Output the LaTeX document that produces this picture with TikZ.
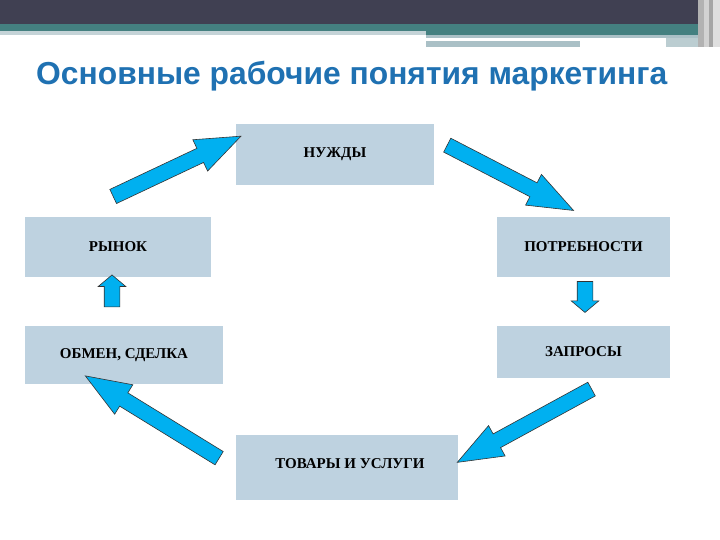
\documentclass[tikz,border=0pt]{standalone}
\usepackage{fontspec}
\setmainfont{Liberation Serif}
\newfontfamily\titlefont{Liberation Sans}
\usetikzlibrary{shapes.arrows,calc}
\definecolor{headdark}{RGB}{64,64,82}
\definecolor{headteal}{RGB}{68,128,128}
\definecolor{headgrey}{RGB}{170,192,198}
\definecolor{titleblue}{RGB}{31,113,178}
\definecolor{boxfill}{RGB}{190,210,224}
\definecolor{arrowfill}{RGB}{0,176,240}
\tikzset{
  term/.style={fill=boxfill,inner sep=0pt,font=\fontsize{15}{17}\selectfont\bfseries},
  fatarrow/.style={single arrow,draw=black!80,fill=arrowfill,line width=0.6pt,
    inner xsep=0pt,inner ysep=7.5pt,single arrow head extend=9.5pt,
    single arrow tip angle=42,minimum width=0pt},
  smallarrow/.style={fatarrow,inner ysep=7.5pt,single arrow head extend=6pt,
    single arrow tip angle=100}
}
\newcommand{\blockarr}[3][fatarrow]{%
  \path let \p1=($(#3)-(#2)$), \n1={atan2(\y1,\x1)}, \n2={veclen(\x1,\y1)} in
    node[#1,minimum height=\n2,rotate=\n1] at ($(#2)!0.5!(#3)$) {};}
\begin{document}
\begin{tikzpicture}[x=1pt,y=-1pt]
\useasboundingbox (0,0) rectangle (720,540);
\fill[white] (0,0) rectangle (720,540);
% header bands
\fill[headdark] (0,0) rectangle (720,24);
\fill[headteal] (0,24) rectangle (426,31);
\fill[headteal] (426,24) rectangle (700,35);
\fill[headgrey!70] (0,31) rectangle (426,35);
\fill[headgrey] (426,35) rectangle (700,38);
\fill[headgrey] (426,41) rectangle (580,47);
\fill[headgrey!80] (666,38) rectangle (700,47);
\fill[gray!60] (698,0) rectangle (704,47);
\fill[gray!35] (704,0) rectangle (709,47);
\fill[gray!70] (709,0) rectangle (713,47);
\fill[gray!25] (713,0) rectangle (720,47);
% title
\node[anchor=base west,inner sep=0pt,text=titleblue,
  font=\titlefont\fontsize{31.8}{34}\selectfont\bfseries] (title) at (36,85)
  {Основные рабочие понятия маркетинга};
% boxes
\node[term,minimum width=198,minimum height=61] (nuzhdy) at (335,154.5) {НУЖДЫ};
\node[term,minimum width=186,minimum height=60] (rynok) at (118,247) {РЫНОК};
\node[term,minimum width=173,minimum height=60] (potreb) at (583.5,247) {ПОТРЕБНОСТИ};
\node[term,minimum width=198,minimum height=58] (obmen) at (124,355) {ОБМЕН, СДЕЛКА};
\node[term,minimum width=173,minimum height=52] (zapros) at (583.5,352) {ЗАПРОСЫ};
\node[term,minimum width=222,minimum height=65] (tovary) at (347,467.5) {};
\node[font=\fontsize{15}{17}\selectfont\bfseries] (tovlbl) at (350,464) {ТОВАРЫ И УСЛУГИ};
% arrow ends
\coordinate (a1s) at ($(rynok.north)+(-14,-16)$);
\coordinate (a1e) at ($(nuzhdy.west)+(-4,-14)$);
\coordinate (a2s) at ($(nuzhdy.east)+(4,-14)$);
\coordinate (a2e) at ($(potreb.north)+(-19,-11)$);
\coordinate (a3s) at ($(potreb.south)+(1.5,1)$);
\coordinate (a3e) at ($(potreb.south)+(1.5,32)$);
\coordinate (a4s) at ($(zapros.south)+(17,6)$);
\coordinate (a4e) at ($(tovary.east)+(8,-10)$);
\coordinate (a5s) at ($(tovary.west)+(-8,-4)$);
\coordinate (a5e) at ($(obmen.south)+(-30,-3)$);
\coordinate (a6s) at ($(rynok.south)+(-6,33)$);
\coordinate (a6e) at ($(rynok.south)+(-6,1)$);
% arrows
\blockarr{a1s}{a1e}
\blockarr{a2s}{a2e}
\blockarr[smallarrow]{a3s}{a3e}
\blockarr{a4s}{a4e}
\blockarr{a5s}{a5e}
\blockarr[smallarrow]{a6s}{a6e}
\end{tikzpicture}
\end{document}
